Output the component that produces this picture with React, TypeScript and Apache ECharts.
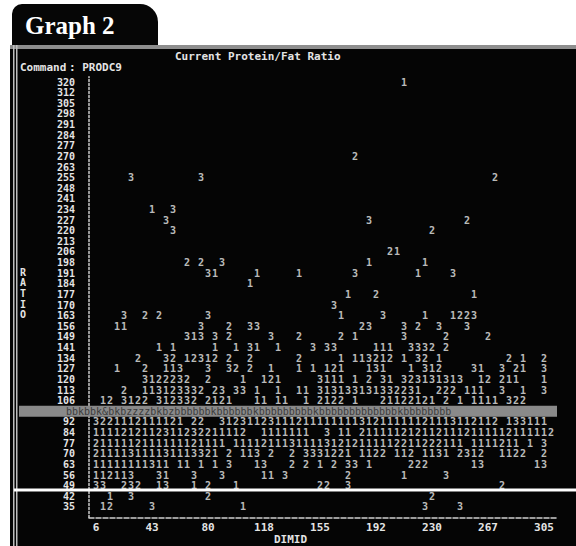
import React, { useEffect, useRef } from "react";
import * as echarts from "echarts";

const FONT = "'DejaVu Sans Mono', 'Liberation Mono', monospace";

const xTickLabels = ["6", "43", "80", "118", "155", "192", "230", "267", "305"];
const ratioLabels = [
  "35", "42", "49", "56", "63", "70", "77", "84", "92", "99",
  "106", "113", "120", "127", "134", "141", "149", "156", "163", "170",
  "177", "184", "191", "198", "206", "213", "220", "227", "234", "241",
  "248", "255", "263", "270", "277", "284", "291", "298", "305", "312", "320",
];

// [ratio row, starting DIMID column, printed counts]
const upperCells: [number, number, string][] = [
  [320, 44, "1"],
  [270, 37, "2"],
  [255, 5, "3"], [255, 15, "3"], [255, 57, "2"],
  [234, 8, "1"], [234, 11, "3"],
  [227, 10, "3"], [227, 39, "3"], [227, 53, "2"],
  [220, 11, "3"], [220, 48, "2"],
  [206, 42, "21"],
  [198, 13, "2 2  3"], [198, 39, "1"], [198, 47, "1"],
  [191, 16, "31"], [191, 23, "1"], [191, 29, "1"], [191, 37, "3"], [191, 46, "1"], [191, 51, "3"],
  [184, 22, "1"],
  [177, 36, "1"], [177, 40, "2"], [177, 54, "1"],
  [170, 34, "3"],
  [163, 4, "3  2 2"], [163, 16, "3"], [163, 35, "1"], [163, 41, "3"], [163, 47, "1"], [163, 51, "1223"],
  [156, 3, "11"], [156, 15, "3"], [156, 19, "2"], [156, 22, "33"], [156, 38, "23"], [156, 44, "3 2"], [156, 49, "3"], [156, 53, "3"],
  [149, 13, "313 3 2"], [149, 25, "3"], [149, 29, "2"], [149, 35, "2 1"], [149, 44, "3"], [149, 50, "2"], [149, 56, "2"],
  [141, 9, "1 1"], [141, 17, "1  1 31"], [141, 26, "1"], [141, 31, "3 33"], [141, 40, "111"], [141, 45, "3332"], [141, 50, "2"],
  [134, 6, "2"], [134, 10, "32 12312"], [134, 19, "2"], [134, 22, "2"], [134, 29, "2"], [134, 35, "1 113212 1 32 1"], [134, 59, "2 1  2"],
  [127, 3, "1   2  113   3  32 2  1"], [127, 29, "1 1 121   131   1 312"], [127, 54, "31  3 21  3"],
  [120, 7, "3122232  2    1  121"], [120, 32, "3111 1 2 31 323131313  12 211   1"],
  [113, 4, "2  113123332 23 33 1  1  11"], [113, 32, "313133131332231  222 111  3  1  3"],
  [106, 1, "12 3122 312332 2121   11 11  1 2122 1   21122121 2 1 1111 322"],
];

const lowerCells: [number, number, string][] = [
  [92, 0, "3221112111121"], [92, 14, "22"], [92, 18, "31231123111211111"], [92, 35, "11131211111121113112112"], [92, 59, "133111"],
  [84, 0, "1111212112311232211112"], [84, 24, "1111111"], [84, 33, "3 11 2111112121121112111112111112"],
  [77, 0, "2111112111111121111"], [77, 20, "111121113111131212111112211222111"], [77, 54, "1111211 1 3"],
  [70, 0, "211113111131113321"], [70, 19, "2 113 2"], [70, 28, "2 3331221"], [70, 38, "1122 112 1131 2312"], [70, 58, "1122"], [70, 64, "2"],
  [63, 0, "11111111311"], [63, 12, "11"], [63, 15, "1 1 3"], [63, 23, "13"], [63, 28, "2 2 1 2 33 1"], [63, 45, "222"], [63, 54, "13"], [63, 63, "13"],
  [56, 0, "112113"], [56, 9, "31"], [56, 14, "3"], [56, 18, "3"], [56, 24, "11 3"], [56, 36, "2"], [56, 44, "1"], [56, 50, "3"],
  [49, 0, "33"], [49, 4, "232"], [49, 9, "13"], [49, 14, "1 2"], [49, 20, "1"], [49, 32, "22"], [49, 36, "3"], [49, 58, "2"],
  [42, 2, "1"], [42, 5, "3"], [42, 16, "2"], [42, 48, "2"],
  [35, 1, "12"], [35, 8, "3"], [35, 21, "1"], [35, 47, "3"], [35, 52, "3"],
];

const bandPattern = "bbkbbk&bkbzzzzbkbzbbbbbbkbbbbbbkbbbbbbbbbkbbbbbbbbbbbbbkbbbbbbbb";

function buildPoints() {
  const pts: [number, number, string][] = [];
  for (const [ratio, start, text] of [...upperCells, ...lowerCells]) {
    const row = ratioLabels.indexOf(String(ratio));
    for (let i = 0; i < text.length; i++) {
      const ch = text[i];
      if (ch !== " ") pts.push([start + i, row, ch]);
    }
  }
  return pts;
}

export default function App() {
  const ref = useRef<HTMLDivElement>(null);
  useEffect(() => {
    document.body.style.margin = "0";
    if (!ref.current) return;
    const chart = echarts.init(ref.current, undefined, { renderer: "svg" });
    const textColor = "#e4e4e4";
    chart.setOption({
      animation: false,
      backgroundColor: "#050505",
      grid: { left: 89, right: 18, top: 76.7, bottom: 28.4, outerBoundsMode: "none", containLabel: false },
      xAxis: {
        type: "value",
        min: -1,
        max: 66,
        splitLine: { show: false },
        axisTick: { show: false },
        axisLine: { show: true, onZero: false, lineStyle: { color: "#d0d0d0", type: [5, 2], width: 1.5 } },
        axisLabel: {
          customValues: xTickLabels.map((_, i) => i * 8),
          formatter: (v: number) => xTickLabels[Math.round(v / 8)] ?? "",
          showMinLabel: true,
          showMaxLabel: true,
          color: textColor,
          fontFamily: FONT,
          fontSize: 11,
          fontWeight: "bold",
          margin: 4,
        },
        name: "DIMID",
        nameLocation: "middle",
        nameGap: 16,
        nameMoveOverlap: false,
        nameTextStyle: { color: textColor, fontFamily: FONT, fontSize: 11, fontWeight: "bold", padding: [0, 66, 0, 0] },
      },
      yAxis: {
        type: "value",
        min: -1,
        max: 40.5,
        splitLine: { show: false },
        axisTick: { show: false },
        axisLine: { show: true, onZero: false, lineStyle: { color: "#d0d0d0", type: [2, 2], width: 1.5 } },
        axisLabel: {
          customValues: ratioLabels.map((_, i) => i),
          formatter: (v: number) => ratioLabels[Math.round(v)] ?? "",
          showMinLabel: true,
          showMaxLabel: true,
          hideOverlap: false,
          color: textColor,
          fontFamily: FONT,
          fontSize: 10,
          fontWeight: "bold",
          lineHeight: 10,
          margin: 14,
        },
      },
      series: [
        {
          type: "scatter",
          data: buildPoints(),
          symbolSize: 1,
          itemStyle: { color: "transparent" },
          silent: true,
          label: {
            show: true,
            position: "inside",
            formatter: (p: any) => p.value[2],
            color: "#ededed",
            fontFamily: FONT,
            fontSize: 10,
            fontWeight: "bold",
            lineHeight: 10,
          },
        },
      ],
      graphic: [
        { type: "rect", id: "pageTop", silent: true, shape: { x: 0, y: 0, width: 576, height: 45 }, style: { fill: "#ffffff" } },
        { type: "rect", id: "pageLeft", silent: true, shape: { x: 0, y: 0, width: 10, height: 546 }, style: { fill: "#ffffff" } },
        { type: "rect", id: "tab", silent: true, shape: { x: 12, y: 4, width: 146, height: 42, r: [10, 18, 0, 0] }, style: { fill: "#060606" } },
        {
          type: "text", id: "tabText", x: 25, y: 25, silent: true,
          style: { text: "Graph 2", fill: "#ffffff", fontSize: 25, fontWeight: "bold", fontFamily: "'Liberation Serif', 'DejaVu Serif', serif", verticalAlign: "middle" },
        },
        { type: "rect", id: "topBorder", silent: true, shape: { x: 10, y: 45, width: 566, height: 4 }, style: { fill: "#8e8e8e" } },
        { type: "rect", id: "leftBorder1", silent: true, shape: { x: 13, y: 45, width: 1.5, height: 501 }, style: { fill: "#bdbdbd" } },
        { type: "rect", id: "leftBorder2", silent: true, shape: { x: 16, y: 45, width: 1.5, height: 501 }, style: { fill: "#bdbdbd" } },
        {
          type: "text", id: "title", x: 175, y: 56, silent: true,
          style: { text: "Current Protein/Fat Ratio", fill: textColor, fontFamily: FONT, fontSize: 11, fontWeight: "bold", verticalAlign: "middle" },
        },
        {
          type: "text", id: "cmd", x: 20, y: 67, silent: true,
          style: { text: "Command", fill: textColor, fontFamily: FONT, fontSize: 11, fontWeight: "bold", verticalAlign: "middle" },
        },
        {
          type: "text", id: "cmdVal", x: 69, y: 67, silent: true,
          style: { text: ": PRODC9", fill: textColor, fontFamily: FONT, fontSize: 11, fontWeight: "bold", verticalAlign: "middle" },
        },
        {
          type: "text", id: "ratioName", x: 23, y: 267, silent: true,
          style: { text: "R\nA\nT\nI\nO", fill: textColor, fontFamily: FONT, fontSize: 10, fontWeight: "bold", lineHeight: 10.6, align: "center", verticalAlign: "top" },
        },
      ],
    });

    const bandY = (chart.convertToPixel({ gridIndex: 0 }, [0, ratioLabels.indexOf("99")]) as number[])[1];
    const lineY = (chart.convertToPixel({ gridIndex: 0 }, [0, 1.5]) as number[])[1] - 1;
    chart.setOption({
      graphic: [
        { type: "rect", id: "band", silent: true, z: 100, shape: { x: 19, y: bandY - 5.5, width: 538, height: 11 }, style: { fill: "#8a8a8a" } },
        {
          type: "text", id: "bandText", silent: true, z: 101, x: 66, y: bandY,
          style: { text: bandPattern, fill: "#3c3c3c", fontFamily: FONT, fontSize: 10, verticalAlign: "middle" },
        },
        { type: "rect", id: "scanLine", silent: true, z: 100, shape: { x: 14, y: lineY - 1.5, width: 562, height: 3 }, style: { fill: "#ffffff" } },
      ],
    });

    return () => chart.dispose();
  }, []);
  return <div ref={ref} style={{ width: 576, height: 546 }} />;
}
